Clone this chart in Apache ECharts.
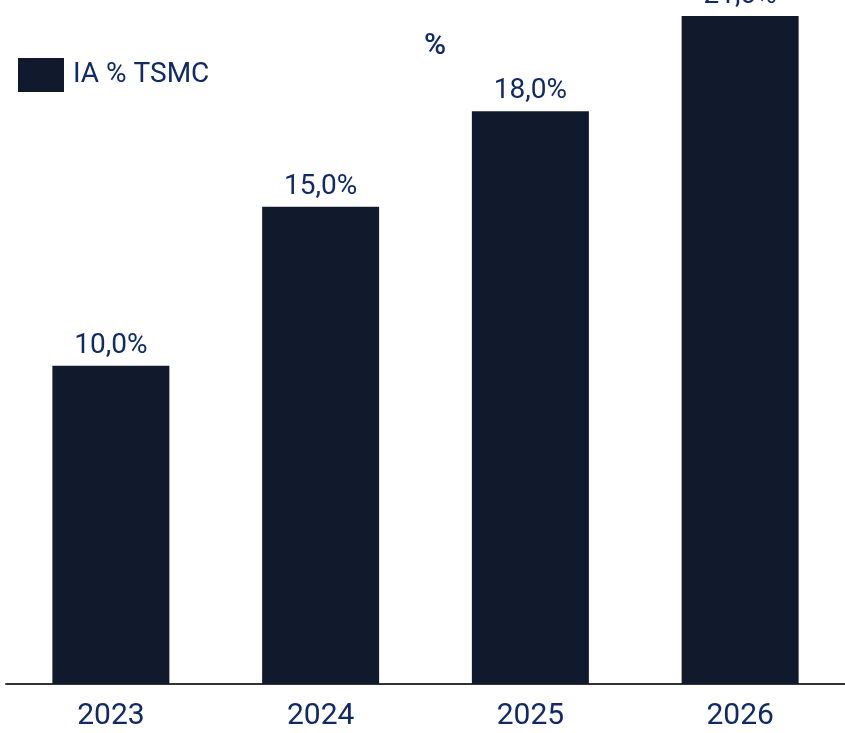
<!DOCTYPE html>
<html>
<head>
<meta charset="utf-8">
<script src="https://cdn.jsdelivr.net/npm/echarts@6/dist/echarts.min.js"></script>
<style>
  html, body { margin: 0; padding: 0; background: #fff; }
  #chart { width: 845px; height: 733px; }
</style>
</head>
<body>
<div id="chart"></div>
<script>
const years = ['2023', '2024', '2025', '2026']
const iaShare = [10.0, 15.0, 18.0, 21.0]
const seriesName = 'IA % TSMC'

const textColor = '#0f2a66'
const barColor = '#111a2d'
const font = 'Roboto'

const chart = echarts.init(document.getElementById('chart'))

const option = {
  animation: false,
  title: {
    text: '%',
    left: 419,
    top: 26,
    textStyle: { color: textColor, fontFamily: font, fontSize: 30, fontWeight: 500 },
  },
  legend: {
    data: [seriesName],
    left: 13,
    top: 53,
    itemWidth: 46,
    itemHeight: 34,
    itemGap: 10,
    icon: 'rect',
    textStyle: { color: textColor, fontFamily: font, fontSize: 28, padding: [0, 0, 0, 4] },
  },
  grid: {
    left: 6,
    width: 847,
    top: 0,
    bottom: 49,
    containLabel: false,
  },
  xAxis: {
    type: 'category',
    data: years,
    axisTick: { show: false },
    axisLine: { lineStyle: { color: '#333', width: 2 } },
    axisLabel: { color: textColor, fontFamily: font, fontSize: 30, margin: 17 },
  },
  yAxis: {
    type: 'value',
    min: 0,
    max: 21.5,
    show: false,
    splitLine: { show: false },
  },
  series: [
    {
      name: seriesName,
      type: 'bar',
      data: iaShare,
      barWidth: 117,
      itemStyle: { color: barColor },
      label: {
        show: true,
        position: 'top',
        distance: 6,
        color: textColor,
        fontFamily: font,
        fontSize: 28,
        formatter: (p) => p.value.toFixed(1).replace('.', ',') + '%',
      },
    },
  ],
}

chart.setOption(option)
</script>
</body>
</html>
